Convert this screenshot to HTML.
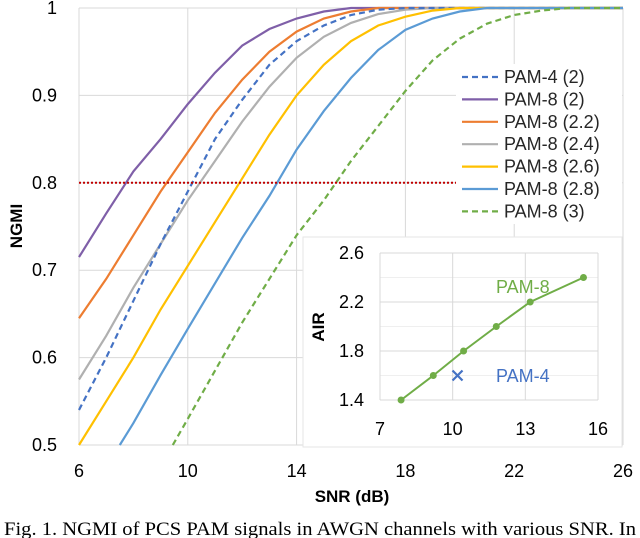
<!DOCTYPE html>
<html><head><meta charset="utf-8"><style>
html,body{margin:0;padding:0;background:#fff;width:640px;height:538px;overflow:hidden}
svg{display:block;font-family:"Liberation Sans",sans-serif}
</style></head><body>
<svg id="c" width="640" height="538"></svg>
<script>
const xTicks=[6,10,14,18,22,26];
const yTicks=[0.5,0.6,0.7,0.8,0.9,1];
const yTickLabels=["0.5","0.6","0.7","0.8","0.9","1"];
const seriesNames=["PAM-4 (2)","PAM-8 (2)","PAM-8 (2.2)","PAM-8 (2.4)","PAM-8 (2.6)","PAM-8 (2.8)","PAM-8 (3)"];
const seriesColors=["#4472c4","#7f5fa8","#ed7d31","#b0b0b0","#ffc000","#5b9bd5","#70ad47"];
const seriesDash=[true,false,false,false,false,false,true];
const snrPam4=[6,7,8,9,10,11,12,13,14,15,16,17,18,26];
const ngmiPam4=[0.54,0.6,0.665,0.73,0.79,0.85,0.895,0.935,0.962,0.98,0.992,0.998,1,1];
const snrP2=[6,7,8,9,10,11,12,13,14,15,16,26];
const ngmiP2=[0.715,0.765,0.813,0.85,0.89,0.926,0.957,0.976,0.988,0.996,1,1];
const snrP22=[6,7,8,9,10,11,12,13,14,15,16,17,26];
const ngmiP22=[0.645,0.69,0.74,0.79,0.835,0.88,0.918,0.95,0.973,0.988,0.996,1,1];
const snrP24=[6,7,8,9,10,11,12,13,14,15,16,17,18,19,26];
const ngmiP24=[0.575,0.625,0.68,0.73,0.78,0.825,0.87,0.91,0.943,0.967,0.983,0.993,0.998,1,1];
const snrP26=[6,7,8,9,10,11,12,13,14,15,16,17,18,19,20,26];
const ngmiP26=[0.5,0.55,0.6,0.655,0.705,0.755,0.805,0.855,0.9,0.935,0.962,0.98,0.99,0.997,1,1];
const snrP28=[7.5,8,9,10,11,12,13,14,15,16,17,18,19,20,21,26];
const ngmiP28=[0.5,0.525,0.58,0.633,0.685,0.737,0.785,0.838,0.882,0.92,0.952,0.975,0.988,0.996,1,1];
const snrP3=[9.45,10,11,12,13,14,15,16,17,18,19,20,21,22,23,24,26];
const ngmiP3=[0.5,0.53,0.585,0.64,0.69,0.74,0.78,0.825,0.865,0.905,0.94,0.965,0.982,0.992,0.997,1,1];
const thresholdNgmi=0.8;
const insetXTicks=[7,10,13,16];
const insetYTicks=[1.4,1.8,2.2,2.6];
const insetYMinor=[1.6,2.0,2.4];
const airSnr8=[7.87,9.2,10.45,11.8,13.2,15.4];
const air8=[1.4,1.6,1.8,2.0,2.2,2.4];
const airSnr4=[10.2];
const air4=[1.6];

const NS="http://www.w3.org/2000/svg";
const svg=document.getElementById('c');
function el(t,a,p){const e=document.createElementNS(NS,t);for(const k in a)e.setAttribute(k,a[k]);(p||svg).appendChild(e);return e;}
const X=v=>79+(v-6)*(623-79)/20;
const Y=v=>445-(v-0.5)*(445-8)/0.5;
const IX=v=>380+(v-7)*(598-380)/9;
const IY=v=>400-(v-1.4)*(400-253)/1.2;

xTicks.forEach(t=>{const l=el('line',{x1:X(t),x2:X(t),y1:8,y2:445,stroke:'#d9d9d9','stroke-width':1});

const tx=el('text',{x:X(t),y:477,'text-anchor':'middle','font-size':18,fill:'#000'});tx.textContent=t;
});
yTicks.forEach((t,i)=>{const l=el('line',{x1:79,x2:623,y1:Y(t),y2:Y(t),stroke:'#d9d9d9','stroke-width':1});

const tx=el('text',{x:57,y:Y(t)+6,'text-anchor':'end','font-size':18,fill:'#000'});tx.textContent=yTickLabels[i];
});

const xt=el('text',{x:352,y:502,'text-anchor':'middle','font-size':17,'font-weight':'bold'});xt.textContent='SNR (dB)';

const yt=el('text',{x:0,y:0,'text-anchor':'middle','font-size':17,'font-weight':'bold',transform:'translate(22,226) rotate(-90)'});yt.textContent='NGMI';


const xs=[snrPam4,snrP2,snrP22,snrP24,snrP26,snrP28,snrP3];
const ys=[ngmiPam4,ngmiP2,ngmiP22,ngmiP24,ngmiP26,ngmiP28,ngmiP3];
const order=[1,2,3,0,4,5,6];
order.forEach(i=>{
 const d=xs[i].map((x,j)=>(j?'L':'M')+X(x).toFixed(1)+','+Y(ys[i][j]).toFixed(1)).join('');
 const p=el('path',{d:d,fill:'none',stroke:seriesColors[i],'stroke-width':2.2,'stroke-dasharray':seriesDash[i]?'6,4':'none'});
 
});

const ib=el('rect',{x:303,y:237,width:319,height:210,fill:'#fff',stroke:'#e6e6e6','stroke-width':1});

insetYMinor.forEach(t=>{const l=el('line',{x1:380,x2:598,y1:IY(t),y2:IY(t),stroke:'#efefef','stroke-width':1});
 });
insetYTicks.forEach(t=>{const l=el('line',{x1:380,x2:598,y1:IY(t),y2:IY(t),stroke:'#d9d9d9','stroke-width':1});
 
 const tx=el('text',{x:364,y:IY(t)+6,'text-anchor':'end','font-size':18});tx.textContent=t.toFixed(1);
 });
insetXTicks.forEach(t=>{const l=el('line',{x1:IX(t),x2:IX(t),y1:253,y2:400,stroke:'#d9d9d9','stroke-width':1});
 
 const tx=el('text',{x:IX(t),y:435,'text-anchor':'middle','font-size':18});tx.textContent=t;
 });
const at=el('text',{x:0,y:0,'text-anchor':'middle','font-size':17,'font-weight':'bold',transform:'translate(324,327) rotate(-90)'});at.textContent='AIR';

const pd=airSnr8.map((x,j)=>(j?'L':'M')+IX(x).toFixed(1)+','+IY(air8[j]).toFixed(1)).join('');
const pl=el('path',{d:pd,fill:'none',stroke:'#70ad47','stroke-width':2});

airSnr8.forEach((x,j)=>{const c=el('circle',{cx:IX(x),cy:IY(air8[j]),r:3.5,fill:'#70ad47'});
 });
airSnr4.forEach((x,j)=>{const g=el('path',{d:`M${IX(x)-5},${IY(air4[j])-5}L${IX(x)+5},${IY(air4[j])+5}M${IX(x)+5},${IY(air4[j])-5}L${IX(x)-5},${IY(air4[j])+5}`,stroke:'#4472c4','stroke-width':2.2});
 });
const l8=el('text',{x:496,y:293,'font-size':18,fill:'#70ad47'});l8.textContent='PAM-8';

const l4=el('text',{x:496,y:382,'font-size':18,fill:'#4472c4'});l4.textContent='PAM-4';


const th=el('line',{x1:79,x2:623,y1:Y(thresholdNgmi),y2:Y(thresholdNgmi),stroke:'#c00000','stroke-width':2,'stroke-dasharray':'2,2'});

const lg=el('rect',{x:456,y:64,width:166,height:160,fill:'#fff'});

seriesNames.forEach((n,i)=>{const yy=77+i*22.4;
 const l=el('line',{x1:462,x2:498,y1:yy,y2:yy,stroke:seriesColors[i],'stroke-width':2.2,'stroke-dasharray':seriesDash[i]?'6,4':'none'});
 
 const t=el('text',{x:504,y:yy+6,'font-size':18,fill:'#262626'});t.textContent=n;
 });

const cap=el('text',{x:4,y:535,'font-size':19,'font-family':'"Liberation Serif",serif',textLength:632,lengthAdjust:'spacingAndGlyphs'});cap.textContent='Fig. 1. NGMI of PCS PAM signals in AWGN channels with various SNR. In';

</script>
</body></html>
